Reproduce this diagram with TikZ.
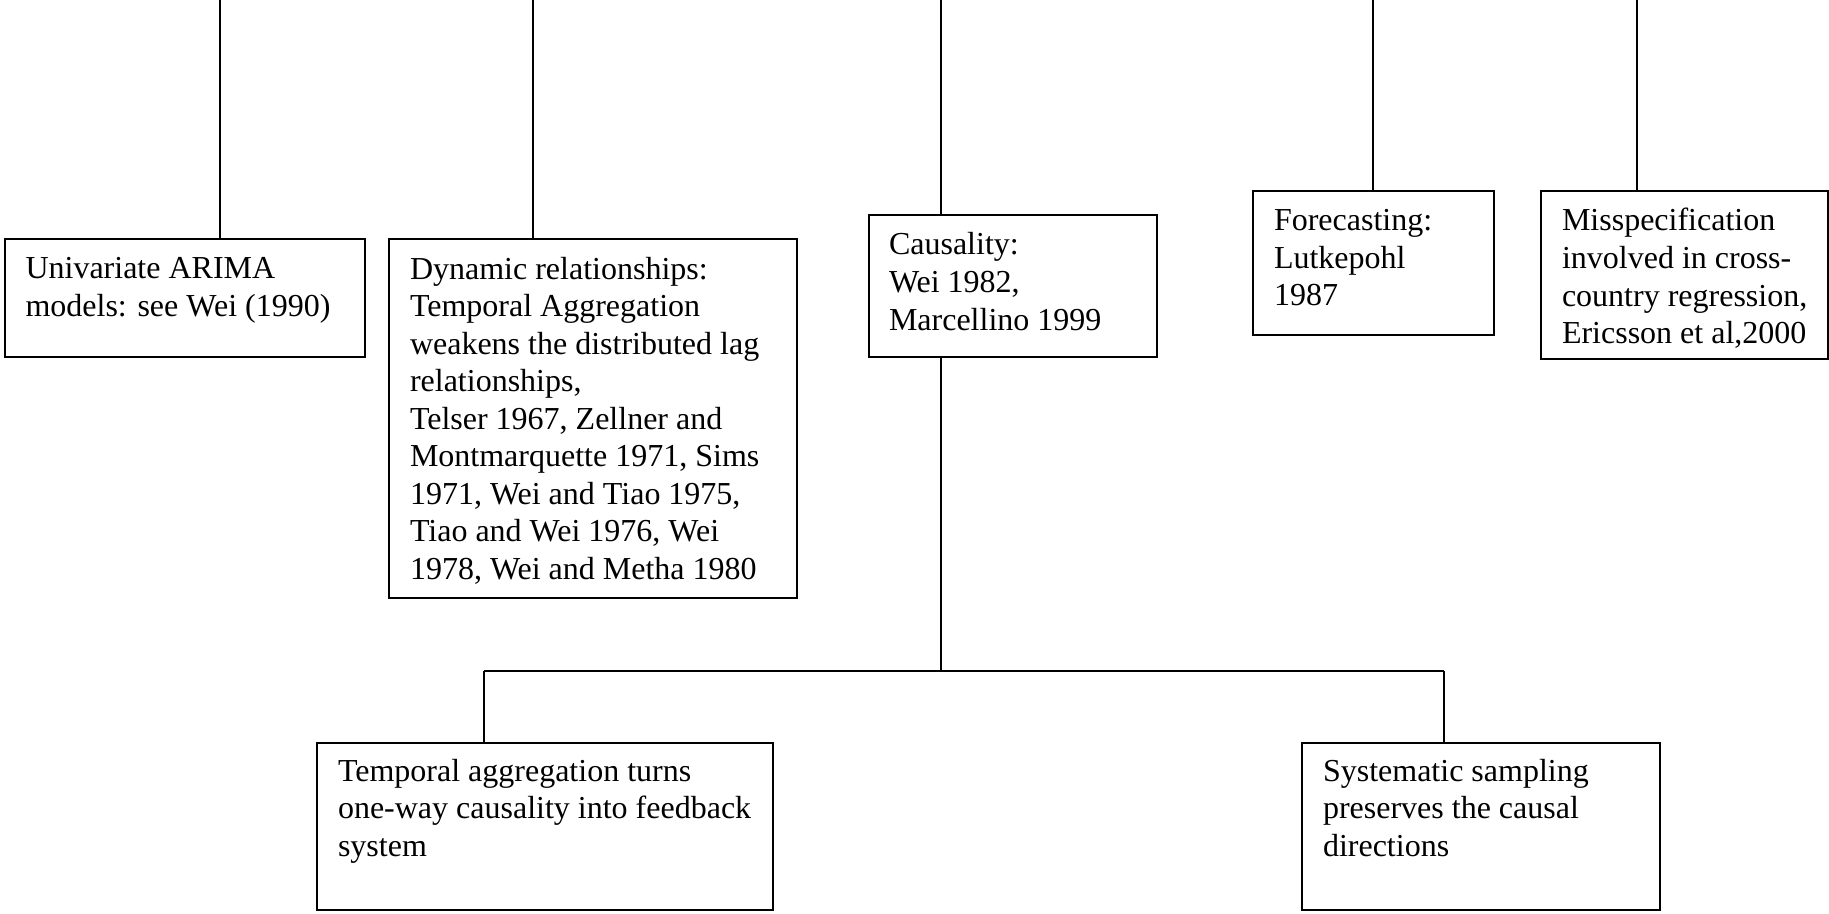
\documentclass[tikz,border=0pt]{standalone}
\usepackage{fontspec}
\setmainfont{Liberation Serif}
\begin{document}
\begin{tikzpicture}[x=0.5pt,y=-0.5pt,
  box/.style={draw=black,line width=1pt,anchor=north west,inner sep=0pt,outer sep=0pt},
  txt/.style={anchor=north west,inner sep=0pt,outer sep=0pt,align=left,
    font=\fontsize{16pt}{18.75pt}\selectfont},
  conn/.style={draw=black,line width=0.9pt}]
\useasboundingbox (0,0) rectangle (1829,914);
\newcommand{\st}{\rule{0pt}{13pt}}
% boxes
\node[box,minimum width=360.5*0.5pt,minimum height=118*0.5pt] (b1) at (4.5,239) {};
\node[box,minimum width=408*0.5pt,minimum height=359*0.5pt] (b2) at (389,239) {};
\node[box,minimum width=288*0.5pt,minimum height=142*0.5pt] (b3) at (869,215) {};
\node[box,minimum width=241*0.5pt,minimum height=144*0.5pt] (b4) at (1253,191) {};
\node[box,minimum width=287*0.5pt,minimum height=168*0.5pt] (b5) at (1541,191) {};
\node[box,minimum width=456*0.5pt,minimum height=167*0.5pt] (b6) at (317,743) {};
\node[box,minimum width=358*0.5pt,minimum height=167*0.5pt] (b7) at (1302,743) {};
% texts
\node[txt] (t1) at ([shift={(21,14)}]b1.north west) {\st Univariate ARIMA\\models: see Wei (1990)};
\node[txt] (t2) at ([shift={(21,14)}]b2.north west) {\st Dynamic relationships:\\Temporal Aggregation\\weakens the distributed lag\\relationships,\\Telser 1967, Zellner and\\Montmarquette 1971, Sims\\1971, Wei and Tiao 1975,\\Tiao and Wei 1976, Wei\\1978, Wei and Metha 1980};
\node[txt] (t3) at ([shift={(20,14)}]b3.north west) {\st Causality:\\Wei 1982,\\Marcellino 1999};
\node[txt] (t4) at ([shift={(21,14)}]b4.north west) {\st Forecasting:\\Lutkepohl\\1987};
\node[txt] (t5) at ([shift={(21,14)}]b5.north west) {\st Misspecification\\involved in cross-\\country regression,\\Ericsson et al,2000};
\node[txt] (t6) at ([shift={(21,12)}]b6.north west) {\st Temporal aggregation turns\\one-way causality into feedback\\system};
\node[txt] (t7) at ([shift={(21,12)}]b7.north west) {\st Systematic sampling\\preserves the causal\\directions};
% connectors from top edge
\coordinate (c1) at (220,0);
\coordinate (c2) at (533,0);
\coordinate (c3) at (941,0);
\coordinate (c4) at (1373,0);
\coordinate (c5) at (1637,0);
\draw[conn] (c1) -- (c1 |- b1.north);
\draw[conn] (c2) -- (c2 |- b2.north);
\draw[conn] (c3) -- (c3 |- b3.north);
\draw[conn] (c4) -- (c4 |- b4.north);
\draw[conn] (c5) -- (c5 |- b5.north);
% lower tree
\coordinate (j) at (941,671);
\coordinate (jl) at (484,671);
\coordinate (jr) at (1444,671);
\draw[conn] (j |- b3.south) -- (j);
\draw[conn] (jl) -- (jr);
\draw[conn] (jl) -- (jl |- b6.north);
\draw[conn] (jr) -- (jr |- b7.north);
\end{tikzpicture}
\end{document}
